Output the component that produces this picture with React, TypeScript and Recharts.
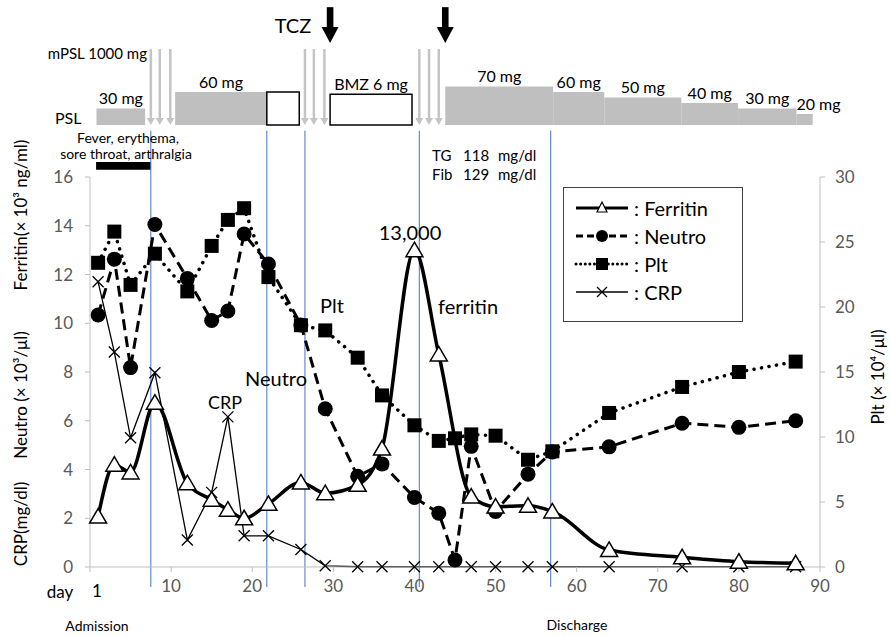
import React from "react"
import { ComposedChart, Line, XAxis, YAxis, ReferenceLine, ReferenceArea, Legend } from "recharts"

const FONT = "Lato, 'Noto Sans', 'DejaVu Sans', sans-serif"

// clinical course data
const days = [1, 3, 5, 8, 12, 15, 17, 19, 22, 26, 29, 33, 36, 40, 43, 45, 47, 50, 54, 57, 64, 73, 80, 87]
const ferritin = [2.07, 4.2, 3.88, 6.74, 3.44, 2.76, 2.35, 2.0, 2.59, 3.47, 3.03, 3.37, 4.86, 13.0, 8.72, null, 2.89, 2.48, 2.51, 2.28, 0.7, 0.4, 0.22, 0.15]
const neutro = [10.34, 12.63, 8.18, 14.05, 11.84, 10.11, 10.5, 13.66, 12.43, 9.93, 6.49, 3.72, 4.23, 2.85, 2.21, 0.29, 4.95, 2.28, 3.81, 4.72, 4.93, 5.9, 5.73, 6.0]
const plt = [23.4, 25.8, 21.7, 24.1, 21.2, 24.7, 26.7, 27.6, 22.3, 18.6, 18.2, 16.1, 13.2, 10.9, 9.7, 9.9, 10.2, 10.1, 8.25, 8.9, 11.85, 13.85, 15.0, 15.8]
const crp = [11.7, 8.82, 5.3, 7.97, 1.11, 3.06, 6.16, 1.28, 1.28, 0.72, 0.05, 0.01, 0.01, 0.01, 0.01, null, 0.01, 0.01, 0.01, 0.01, 0.01, 0.01, 0.01, 0.01]

const xTicks = [0, 10, 20, 30, 40, 50, 60, 70, 80, 90]
const leftTicks = [0, 2, 4, 6, 8, 10, 12, 14, 16]
const rightTicks = [0, 5, 10, 15, 20, 25, 30]

// treatment (top panel)
const pslDose = [30, 60, 70, 60, 50, 40, 30, 20]
const pslFrom = [0.8, 10.5, 43.8, 57.1, 63.4, 72.9, 79.9, 87.1]
const pslTo = [6.8, 21.8, 57.1, 63.4, 72.9, 79.9, 87.1, 89.1]
const boxFrom = [21.8, 29.6]
const boxTo = [25.8, 39.7]
const boxLevel = [60, 56]
const boxText = ["", "BMZ 6 mg"]
const mpslDays = [7.5, 8.6, 9.9, 26.5, 27.6, 28.9, 40.6, 41.8, 43.0]
const tczDays = [29.6, 43.8]
const eventDays = [7.5, 21.8, 26.5, 40.6, 56.8]
const fever = [0.75, 7.5]

const rows = days.map((d, i) => ({
  day: d,
  ferritin: ferritin[i],
  neutro: neutro[i],
  plt: plt[i],
  crp: crp[i],
}))

const Tri = (p: any) => {
  const { cx, cy } = p
  if (cx == null || cy == null) return <g key={p.key} />
  return <path key={p.key} d={`M${cx},${cy - 8} L${cx + 8.5},${cy + 6.5} L${cx - 8.5},${cy + 6.5} Z`} fill="#fff" stroke="#000" strokeWidth={1.5} />
}
const Circ = (p: any) => {
  const { cx, cy } = p
  if (cx == null || cy == null) return <g key={p.key} />
  return <circle key={p.key} cx={cx} cy={cy} r={7.5} fill="#000" />
}
const Sq = (p: any) => {
  const { cx, cy } = p
  if (cx == null || cy == null) return <g key={p.key} />
  return <rect key={p.key} x={cx - 7} y={cy - 7} width={14} height={14} fill="#000" />
}
const Cross = (p: any) => {
  const { cx, cy } = p
  if (cx == null || cy == null) return <g key={p.key} />
  return <path key={p.key} d={`M${cx - 5.5},${cy - 5.5} L${cx + 5.5},${cy + 5.5} M${cx + 5.5},${cy - 5.5} L${cx - 5.5},${cy + 5.5}`} stroke="#000" strokeWidth={1.3} />
}

const grayArrow = (p: any) => {
  const { x1, y1, y2 } = p
  return (
    <g>
      <line x1={x1} y1={y1} x2={x1} y2={y2 - 6} stroke="#c4c4c4" strokeWidth={2.5} />
      <path d={`M${x1 - 4},${y2 - 7} L${x1 + 4},${y2 - 7} L${x1},${y2} Z`} fill="#c4c4c4" />
    </g>
  )
}
const blackArrow = (p: any) => {
  const { x1, y1, y2 } = p
  return (
    <g>
      <rect x={x1 - 3.3} y={y1} width={6.6} height={y2 - y1 - 15} fill="#000" />
      <path d={`M${x1 - 8.5},${y2 - 16} L${x1 + 8.5},${y2 - 16} L${x1},${y2} Z`} fill="#000" />
    </g>
  )
}

const doseLabel = (text: string, left = false) => (p: any) => {
  const vb = p.viewBox
  if (!vb) return null
  return (
    <text x={left ? vb.x : vb.x + vb.width / 2} y={vb.y - 4} textAnchor={left ? "start" : "middle"} fontSize={16} fill="#000" fontFamily={FONT}>
      {text}
    </text>
  )
}

const legendItems = [
  { name: "Ferritin", dash: undefined, w: 3, mark: "tri" },
  { name: "Neutro", dash: "7 4", w: 3, mark: "circ" },
  { name: "Plt", dash: "0.1 4.5", w: 3, mark: "sq" },
  { name: "CRP", dash: undefined, w: 1.5, mark: "x" },
]

const LegendBox = () => (
  <div style={{ fontFamily: FONT, fontSize: 20, color: "#000", padding: "6px 0 0 10px" }}>
    {legendItems.map((it) => (
      <div key={it.name} style={{ display: "flex", alignItems: "center", height: 28 }}>
        <svg width={56} height={20}>
          <line x1={2} y1={10} x2={54} y2={10} stroke="#000" strokeWidth={it.w} strokeDasharray={it.dash} strokeLinecap={it.mark === "sq" ? "round" : "butt"} />
          {it.mark === "tri" && <path d="M28,4 L33,14 L23,14 Z" fill="#fff" stroke="#000" strokeWidth={1.2} />}
          {it.mark === "circ" && <circle cx={28} cy={10} r={6} fill="#000" />}
          {it.mark === "sq" && <rect x={22} y={4} width={12} height={12} fill="#000" />}
          {it.mark === "x" && <path d="M23,5 L33,15 M33,5 L23,15" stroke="#000" strokeWidth={1.3} />}
        </svg>
        <span style={{ marginLeft: 4 }}>:&nbsp;{it.name}</span>
      </div>
    ))}
  </div>
)

const tickStyle = { fill: "#595959", fontSize: 17, fontFamily: FONT }

export default function App() {
  return (
    <div style={{ position: "absolute", left: 0, top: 0, width: 890, height: 636, background: "#fff", fontFamily: FONT }}>
      {/* laboratory panel */}
      <div style={{ position: "absolute", left: 0, top: 0 }}>
        <ComposedChart width={890} height={636} data={rows} margin={{ top: 177, right: 40, bottom: 39, left: 60 }}>
          <XAxis
            dataKey="day"
            type="number"
            domain={[0, 90]}
            ticks={xTicks}
            tickFormatter={(v: number) => (v === 0 ? "" : String(v))}
            stroke="#bfbfbf"
            tick={tickStyle}
            tickSize={5}
            tickMargin={8}
            height={30}
          />
          <YAxis yAxisId="l" domain={[0, 16]} ticks={leftTicks} width={30} stroke="#bfbfbf" tick={tickStyle} tickSize={5} tickMargin={12} />
          <YAxis yAxisId="r" orientation="right" domain={[0, 30]} ticks={rightTicks} width={30} stroke="#bfbfbf" tick={tickStyle} tickSize={5} tickMargin={10} />
          {eventDays.map((d, i) => (
            <ReferenceLine key={"e" + i} yAxisId="l" segment={[{ x: d, y: -0.82 }, { x: d, y: 17.9 }]} ifOverflow="visible" stroke="#4472c4" strokeWidth={1} />
          ))}
          <ReferenceArea yAxisId="l" x1={fever[0]} x2={fever[1]} y1={16.3} y2={16.62} fill="#000" fillOpacity={1} ifOverflow="visible" />
          <Line yAxisId="l" dataKey="crp" name="CRP" stroke="#000" strokeWidth={1.3} dot={Cross} connectNulls isAnimationActive={false} />
          <Line yAxisId="r" dataKey="plt" name="Plt" stroke="#000" strokeWidth={3.5} strokeDasharray="0.1 7.5" strokeLinecap="round" dot={Sq} isAnimationActive={false} />
          <Line yAxisId="l" dataKey="neutro" name="Neutro" stroke="#000" strokeWidth={3} strokeDasharray="11 6" dot={Circ} isAnimationActive={false} />
          <Line yAxisId="l" type="monotone" dataKey="ferritin" name="Ferritin" stroke="#000" strokeWidth={3.5} dot={Tri} connectNulls isAnimationActive={false} />
          <Legend
            layout="horizontal"
            verticalAlign="middle"
            align="center"
            content={() => <LegendBox />}
            wrapperStyle={{ left: 563, top: 187, width: 180, height: 135, border: "1.5px solid #404040", background: "#fff", boxSizing: "border-box" }}
          />
        </ComposedChart>
      </div>

      {/* treatment panel */}
      <div style={{ position: "absolute", left: 0, top: 0 }}>
        <ComposedChart width={890} height={200} data={rows} margin={{ top: 0, right: 70, bottom: 75, left: 90 }}>
          <XAxis dataKey="day" type="number" domain={[0, 90]} hide />
          <YAxis domain={[0, 227]} hide />
          {/* invisible carrier series so the axes get scales */}
          <Line dataKey="neutro" stroke="none" dot={false} activeDot={false} legendType="none" isAnimationActive={false} />
          {pslDose.map((d, i) => (
            <ReferenceArea
              key={"psl" + i}
              x1={pslFrom[i]}
              x2={pslTo[i]}
              y1={0}
              y2={d}
              fill="#bfbfbf"
              fillOpacity={1}
              stroke="none"
              label={doseLabel(`${d} mg`, i === pslDose.length - 1)}
            />
          ))}
          {boxFrom.map((b, i) => (
            <ReferenceArea
              key={"box" + i}
              x1={b}
              x2={boxTo[i]}
              y1={0}
              y2={boxLevel[i]}
              fill="#fff"
              fillOpacity={1}
              stroke="#000"
              strokeWidth={1.5}
              label={doseLabel(boxText[i])}
            />
          ))}
          {mpslDays.map((d, i) => (
            <ReferenceLine key={"m" + i} segment={[{ x: d, y: 138 }, { x: d, y: 0 }]} ifOverflow="visible" shape={grayArrow} />
          ))}
          {tczDays.map((d, i) => (
            <ReferenceLine key={"t" + i} segment={[{ x: d, y: 214 }, { x: d, y: 149 }]} ifOverflow="visible" shape={blackArrow} />
          ))}
        </ComposedChart>
      </div>

      {/* annotations */}
      <svg width={890} height={636} style={{ position: "absolute", left: 0, top: 0, pointerEvents: "none" }} fontFamily={FONT}>
        <text x={293} y={25} fontSize={20} textAnchor="middle" dominantBaseline="central">TCZ</text>
        <text x={147} y={53} fontSize={15} textAnchor="end" dominantBaseline="central">mPSL 1000 mg</text>
        <text x={55} y={117} fontSize={16} dominantBaseline="central">PSL</text>
        <text x={128} y={137} fontSize={14} textAnchor="middle" dominantBaseline="central">Fever, erythema,</text>
        <text x={126} y={153} fontSize={14} textAnchor="middle" dominantBaseline="central">sore throat, arthralgia</text>
        <text y={155} fontSize={15} dominantBaseline="central">
          <tspan x={432}>TG</tspan><tspan x={463}>118</tspan><tspan x={498}>mg/dl</tspan>
        </text>
        <text y={174} fontSize={15} dominantBaseline="central">
          <tspan x={432}>Fib</tspan><tspan x={463}>129</tspan><tspan x={498}>mg/dl</tspan>
        </text>
        <text x={410} y={232} fontSize={20} textAnchor="middle" dominantBaseline="central">13,000</text>
        <text x={438} y={306} fontSize={20} dominantBaseline="central">ferritin</text>
        <text x={320} y={305} fontSize={20} dominantBaseline="central">Plt</text>
        <text x={245} y={378} fontSize={20} dominantBaseline="central">Neutro</text>
        <text x={208} y={402} fontSize={18} dominantBaseline="central">CRP</text>
        <text x={60} y={591} fontSize={17} textAnchor="middle" dominantBaseline="central">day</text>
        <text x={97} y={590} fontSize={17} textAnchor="middle" dominantBaseline="central">1</text>
        <text x={97} y={625} fontSize={14} textAnchor="middle" dominantBaseline="central">Admission</text>
        <text x={577} y={624} fontSize={14} textAnchor="middle" dominantBaseline="central">Discharge</text>
        <text transform="translate(20,524) rotate(-90)" fontSize={17} textAnchor="middle" dominantBaseline="central">CRP(mg/dl)</text>
        <text transform="translate(20,395) rotate(-90)" fontSize={17} textAnchor="middle" dominantBaseline="central">Neutro (× 10³/μl)</text>
        <text transform="translate(20,215) rotate(-90)" fontSize={17} textAnchor="middle" dominantBaseline="central">Ferritin(× 10³ ng/ml)</text>
        <text transform="translate(877,377) rotate(-90)" fontSize={17} textAnchor="middle" dominantBaseline="central">Plt (× 10⁴/μl)</text>
      </svg>
    </div>
  )
}
